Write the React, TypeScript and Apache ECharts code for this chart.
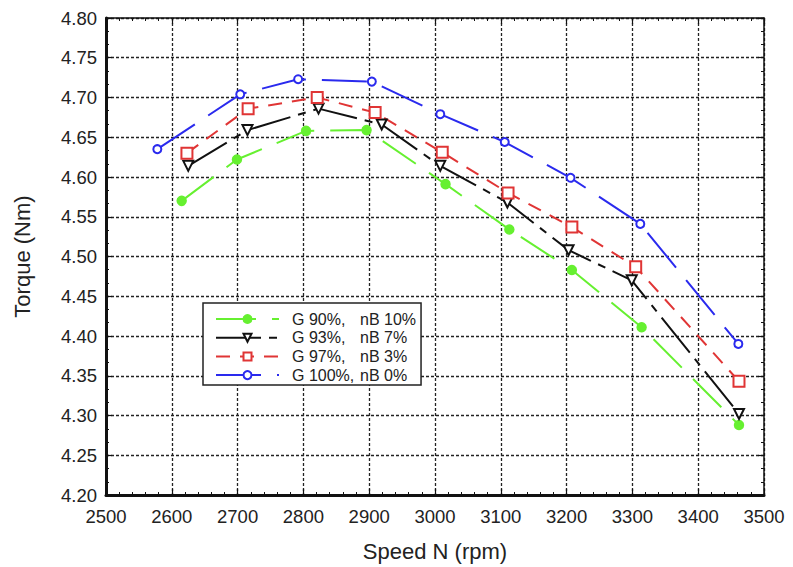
import React, { useEffect, useRef } from "react";
import * as echarts from "echarts";

const seriesNames = ["G 90%,|nB 10%", "G 93%,|nB 7%", "G 97%,|nB 3%", "G 100%,|nB 0%"];

const g90Speed = [2615, 2699, 2804, 2896, 3016, 3113, 3208, 3314, 3462];
const g90Torque = [4.570, 4.622, 4.658, 4.659, 4.591, 4.534, 4.483, 4.411, 4.288];

const g93Speed = [2625, 2715, 2823, 2919, 3008, 3110, 3203, 3299, 3462];
const g93Torque = [4.614, 4.659, 4.686, 4.666, 4.614, 4.568, 4.508, 4.470, 4.302];

const g97Speed = [2623, 2716, 2821, 2909, 3011, 3111, 3208, 3305, 3462];
const g97Torque = [4.630, 4.686, 4.700, 4.681, 4.631, 4.580, 4.537, 4.487, 4.343];

const g100Speed = [2578, 2704, 2792, 2904, 3008, 3106, 3206, 3312, 3461];
const g100Torque = [4.635, 4.704, 4.723, 4.720, 4.679, 4.644, 4.599, 4.541, 4.390];

const FONT = "Arial, 'Liberation Sans', sans-serif";

function pairs(xs: number[], ys: number[]) {
  return xs.map((x, i) => [x, ys[i]]);
}

export default function App() {
  const ref = useRef<HTMLDivElement>(null);
  useEffect(() => {
    if (!ref.current) return;
    const chart = echarts.init(ref.current, null, { renderer: "svg" });
    const axisCommon = {
      type: "value" as const,
      axisTick: { show: true, inside: true, length: 6, lineStyle: { color: "#111", width: 1.2 } },
      minorTick: { show: true, length: 3, lineStyle: { color: "#111", width: 1 } },
    };
    const mkSeries = (
      name: string,
      xs: number[],
      ys: number[],
      color: string,
      dash: number[],
      symbol: string,
      size: number,
      rotate = 0
    ) => ({
      name,
      type: "line",
      data: pairs(xs, ys),
      symbol,
      symbolSize: size,
      symbolRotate: rotate,
      showAllSymbol: true,
      lineStyle: { color, width: 2, type: dash },
      itemStyle: { color, borderColor: color, borderWidth: 1.5 },
      z: 5,
    });
    chart.setOption({
      animation: false,
      backgroundColor: "#fff",
      textStyle: { fontFamily: FONT },
      grid: { left: 106, top: 18, right: 29, bottom: 70, containLabel: false },
      xAxis: [
        {
          ...axisCommon,
          position: "bottom",
          min: 2500,
          max: 3500,
          interval: 100,
          minorTick: { ...axisCommon.minorTick, splitNumber: 5 },
          axisLine: { show: true, onZero: false, lineStyle: { color: "#111", width: 3 } },
          axisLabel: {
            color: "#222",
            fontSize: 18.5,
            margin: 12,
            fontFamily: FONT,
            formatter: (v: number) => String(v),
          },
          splitLine: { show: true, lineStyle: { color: "#222", width: 1.3, type: [3, 2] } },
          name: "Speed N (rpm)",
          nameLocation: "middle",
          nameGap: 45,
          nameTextStyle: { color: "#222", fontSize: 22, fontFamily: FONT },
        },
        {
          ...axisCommon,
          position: "top",
          min: 2500,
          max: 3500,
          interval: 100,
          minorTick: { ...axisCommon.minorTick, splitNumber: 5 },
          axisLine: { show: true, onZero: false, lineStyle: { color: "#111", width: 1.5 } },
          axisLabel: { show: false },
          splitLine: { show: false },
        },
      ],
      yAxis: [
        {
          ...axisCommon,
          position: "left",
          min: 4.2,
          max: 4.8,
          interval: 0.05,
          minorTick: { ...axisCommon.minorTick, splitNumber: 3 },
          axisLine: { show: true, onZero: false, lineStyle: { color: "#111", width: 3 } },
          axisLabel: {
            color: "#222",
            fontSize: 18.5,
            margin: 9,
            fontFamily: FONT,
            formatter: (v: number) => v.toFixed(2),
          },
          splitLine: { show: true, lineStyle: { color: "#222", width: 1.3, type: [3, 2] } },
          name: "Torque (Nm)",
          nameLocation: "middle",
          nameGap: 73,
          nameTextStyle: { color: "#222", fontSize: 22, fontFamily: FONT },
        },
        {
          ...axisCommon,
          position: "right",
          min: 4.2,
          max: 4.8,
          interval: 0.05,
          minorTick: { ...axisCommon.minorTick, splitNumber: 3 },
          axisLine: { show: true, onZero: false, lineStyle: { color: "#111", width: 1.5 } },
          axisLabel: { show: false },
          splitLine: { show: false },
        },
      ],
      legend: {
        orient: "vertical",
        left: 203,
        top: 303,
        backgroundColor: "#fff",
        borderColor: "#222",
        borderWidth: 1.5,
        borderRadius: 0,
        padding: [8, 5, 2, 12],
        itemWidth: 63,
        itemHeight: 10,
        itemGap: 2.7,
        z: 10,
        formatter: (name: string) => {
          const [a, b] = name.split("|");
          return `{a|${a}}{b|${b}}`;
        },
        textStyle: {
          fontFamily: FONT,
          fontSize: 16,
          lineHeight: 16,
          color: "#222",
          rich: {
            a: { width: 68, padding: [0, 0, 0, 8], fontSize: 16, fontFamily: FONT, color: "#222" },
            b: { fontSize: 16, fontFamily: FONT, color: "#222" },
          },
        },
        data: seriesNames,
      },
      series: [
        mkSeries(seriesNames[0], g90Speed, g90Torque, "#66f030", [40, 16], "circle", 9),
        mkSeries(seriesNames[1], g93Speed, g93Torque, "#111111", [45, 8, 8, 8], "emptyTriangle", 10, 180),
        mkSeries(seriesNames[2], g97Speed, g97Torque, "#e03535", [14, 10], "emptyRect", 11),
        mkSeries(seriesNames[3], g100Speed, g100Torque, "#2a2aee", [45, 16], "emptyCircle", 8),
      ],
    });
    return () => chart.dispose();
  }, []);
  return (
    <div
      ref={ref}
      style={{ position: "absolute", left: 0, top: 0, width: 793, height: 567 }}
    />
  );
}
